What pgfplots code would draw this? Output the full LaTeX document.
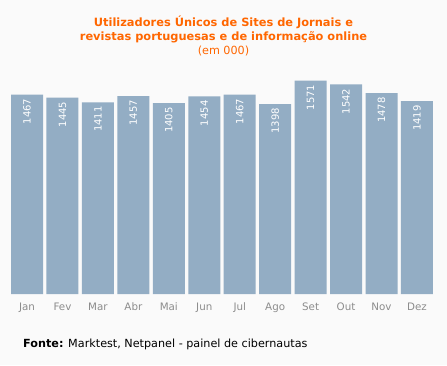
\documentclass[border=0pt]{standalone}
\usepackage{fontspec}
\setmainfont{DejaVu Sans}
\usepackage{pgfplots}
\pgfplotsset{compat=1.18}
\definecolor{bg}{HTML}{FAFAFA}
\definecolor{barc}{HTML}{93ADC4}
\definecolor{ttl}{HTML}{FF6600}
\definecolor{lbl}{HTML}{8C8C8C}
\begin{document}
\begin{tikzpicture}[x=1pt,y=1pt]
\fill[bg] (0,0) rectangle (447,365);
\path[use as bounding box] (0,0) rectangle (447,365);
\begin{axis}[
  at={(9.3pt,71pt)}, anchor=south west,
  scale only axis, width=425.4pt, height=231pt,
  xmin=-0.5, xmax=11.5, ymin=0, ymax=1700,
  enlargelimits=false,
  ybar, bar width=32pt,
  axis line style={draw=none},
  ytick=\empty,
  xtick={0,...,11},
  xticklabels={Jan,Fev,Mar,Abr,Mai,Jun,Jul,Ago,Set,Out,Nov,Dez},
  tick style={draw=none}, major tick length=0pt,
  x tick label style={font=\fontsize{10.3}{12}\selectfont, text=lbl, yshift=-5.5pt},
  /pgf/number format/1000 sep={},
  /pgf/number format/assume math mode=true,
  nodes near coords,
  every node near coord/.append style={rotate=90, anchor=east, text=white,
     font=\fontsize{10}{12}\selectfont, inner xsep=4pt, inner ysep=0pt},
  clip=false,
]
\addplot[fill=barc, draw=none] coordinates {
(0,1467) (1,1445) (2,1411) (3,1457) (4,1405) (5,1454)
(6,1467) (7,1398) (8,1571) (9,1542) (10,1478) (11,1419)};
\end{axis}
\node[text=ttl, font=\bfseries\fontsize{11.4}{12}\selectfont, anchor=base] at (223.5,338) {Utilizadores Únicos de Sites de Jornais e};
\node[text=ttl, font=\bfseries\fontsize{11.4}{12}\selectfont, anchor=base] at (223.5,324) {revistas portuguesas e de informação online};
\node[text=ttl, font=\fontsize{11.2}{12}\selectfont, anchor=base] at (223.5,310) {(em 000)};
\node[anchor=base west, inner sep=0pt, font=\fontsize{11.2}{12}\selectfont] at (23,18) {\textbf{Fonte:} Marktest, Netpanel - painel de cibernautas};
\end{tikzpicture}
\end{document}
